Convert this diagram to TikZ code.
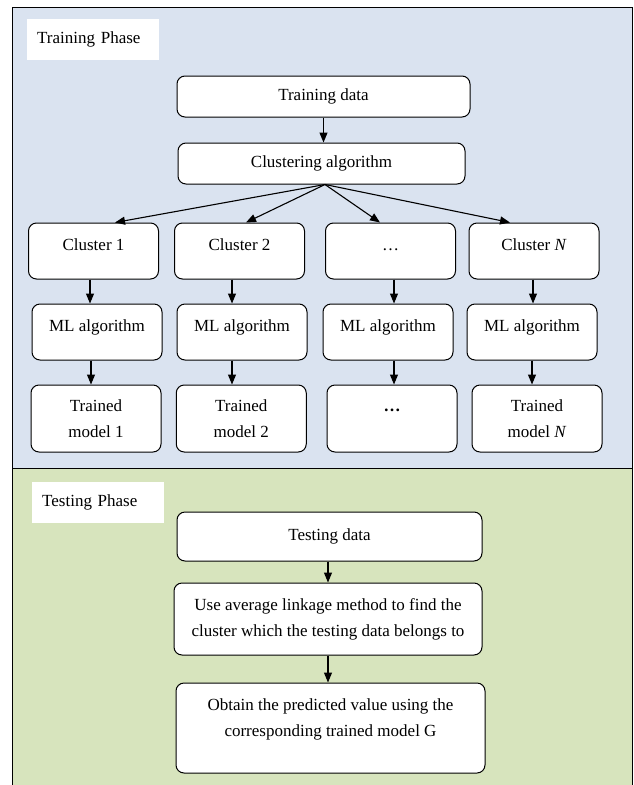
\documentclass[tikz,border=0pt]{standalone}
\usepackage{fontspec}
\setmainfont{Liberation Serif}
\usetikzlibrary{arrows.meta}
\definecolor{trainbg}{HTML}{DAE3F0}
\definecolor{testbg}{HTML}{D7E4BD}
\begin{document}
\begin{tikzpicture}[x=1pt, y=-1pt, font=\fontsize{17}{26}\selectfont,
  box/.style={draw, fill=white, rounded corners=8pt, line width=1pt, inner sep=0pt, align=center},
  cbox/.style={box, minimum width=130pt},
  topbox/.style={cbox, text height=27pt, text depth=29pt},
  phase/.style={fill=white, inner xsep=10pt, inner ysep=0pt, text width=112pt, align=left, minimum height=41pt, anchor=north west},
  arr/.style={line width=1.1pt, -{Triangle[length=10pt, width=8pt]}}]
\useasboundingbox (0,0) rectangle (633,785);
\fill[trainbg] (12,7) rectangle (632,468);
\fill[testbg] (12,468) rectangle (632,785);
\draw[line width=1pt] (12,785) -- (12,7) -- (632,7) -- (632,785) (12,468) -- (632,468);
\node[phase] (L_train) at (27,19) {Training Phase};
\node[box, minimum width=293pt, minimum height=41pt] (D_train) at (323.5,96.5) {Training data};
\node[box, minimum width=287pt, minimum height=41pt] (A_clust) at (321.5,163.5) {Clustering algorithm};
\draw[arr] (D_train.south) -- (D_train.south |- A_clust.north);
\coordinate (F) at ([xshift=3.5pt]A_clust.south);
\node[topbox] (C_1) at (93.5,251) {Cluster 1};
\draw[arr] (F) -- ([xshift=21.5pt]C_1.north);
\node[topbox] (C_2) at (239.5,251) {Cluster 2};
\draw[arr] (F) -- ([xshift=6.5pt]C_2.north);
\node[topbox] (C_3) at (390.5,251) {…};
\draw[arr] (F) -- ([xshift=-10.5pt]C_3.north);
\node[topbox] (C_4) at (534,251) {Cluster \textit{N}};
\draw[arr] (F) -- ([xshift=-24pt]C_4.north);
\node[topbox] (M_1) at (97,332) {ML algorithm};
\draw[arr] ([xshift=-3.5pt]C_1.south) -- ([xshift=-3.5pt]C_1.south |- M_1.north);
\node[topbox] (M_2) at (242,332) {ML algorithm};
\draw[arr] ([xshift=-7.5pt]C_2.south) -- ([xshift=-7.5pt]C_2.south |- M_2.north);
\node[topbox] (M_3) at (388,332) {ML algorithm};
\draw[arr] ([xshift=3.5pt]C_3.south) -- ([xshift=3.5pt]C_3.south |- M_3.north);
\node[topbox] (M_4) at (532,332) {ML algorithm};
\draw[arr] ([xshift=-1pt]C_4.south) -- ([xshift=-1pt]C_4.south |- M_4.north);
\node[cbox, minimum height=67pt] (R_1) at (96,418.5) {Trained\\model 1};
\draw[arr] ([xshift=-6pt]M_1.south) -- ([xshift=-6pt]M_1.south |- R_1.north);
\node[cbox, minimum height=67pt] (R_2) at (241.25,418.5) {Trained\\model 2};
\draw[arr] ([xshift=-10pt]M_2.south) -- ([xshift=-10pt]M_2.south |- R_2.north);
\node[cbox, text height=26pt, text depth=41pt, font=\fontsize{17}{26}\selectfont\bfseries] (R_3) at (392,418.5) {…};
\draw[arr] ([xshift=6pt]M_3.south) -- ([xshift=6pt]M_3.south |- R_3.north);
\node[cbox, minimum height=67pt] (R_4) at (537,418.5) {Trained\\model \textit{N}};
\draw[arr] (M_4.south) -- (M_4.south |- R_4.north);
\node[phase] (L_test) at (32,482) {Testing Phase};
\node[box, minimum width=305pt, minimum height=49pt] (D_test) at (329.5,536.5) {Testing data};
\node[box, minimum width=308pt, minimum height=72pt] (U_link) at (328,619) {Use average linkage method to find the\\cluster which the testing data belongs to};
\draw[arr] (U_link.north |- D_test.south) -- (U_link.north);
\node[box, minimum width=309pt, minimum height=90pt] (O_pred) at (330.5,728) {Obtain the predicted value using the\\corresponding trained model G\\[-6pt]\mbox{}};
\draw[arr] (U_link.south) -- (U_link.south |- O_pred.north);
\end{tikzpicture}
\end{document}
